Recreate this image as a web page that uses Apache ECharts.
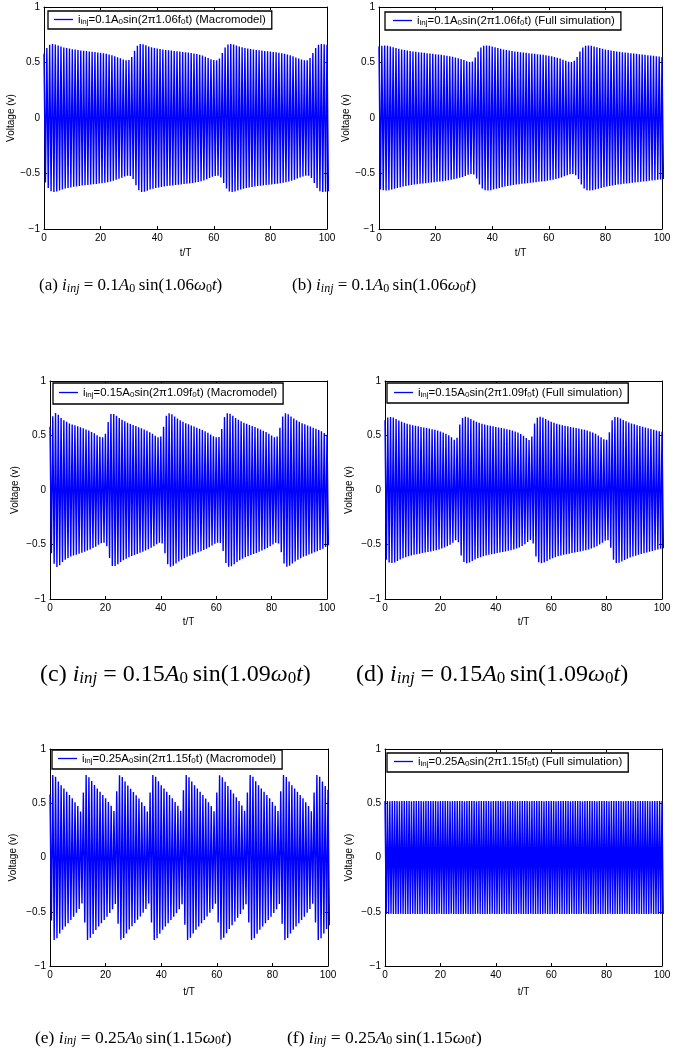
<!DOCTYPE html>
<html><head><meta charset="utf-8">
<script src="https://cdn.jsdelivr.net/npm/echarts@6/dist/echarts.min.js"></script>
<style>html,body{margin:0;padding:0;background:#fff}#c{width:692px;height:1061px}</style>
</head><body><div id="c"></div>
<script>
// ---------------- data ----------------
const xTicks = [0, 20, 40, 60, 80, 100];
const yTicks = [-1, -0.5, 0, 0.5, 1];
const panelIds = ['a', 'b', 'c', 'd', 'e', 'f'];
const injCoef = ['0.1', '0.1', '0.15', '0.15', '0.25', '0.25'];
const injFreq = ['1.06', '1.06', '1.09', '1.09', '1.15', '1.15'];
const modelName = ['Macromodel', 'Full simulation', 'Macromodel', 'Full simulation', 'Macromodel', 'Full simulation'];
const cyclesPerT = [1, 1, 1, 1, 1, 1.15];

// peak amplitude of each oscillation cycle (V)
const ampA = [0.58,0.63,0.66,0.667,0.662,0.652,0.643,0.636,0.63,0.625,
 0.62,0.616,0.612,0.609,0.606,0.603,0.6,0.597,0.594,0.591,
 0.587,0.583,0.578,0.572,0.565,0.557,0.548,0.538,0.528,0.52,
 0.522,0.55,0.605,0.65,0.667,0.664,0.655,0.645,0.637,0.631,
 0.626,0.621,0.617,0.613,0.61,0.607,0.604,0.601,0.598,0.595,
 0.592,0.589,0.585,0.581,0.576,0.57,0.562,0.552,0.541,0.53,
 0.522,0.52,0.535,0.585,0.635,0.662,0.667,0.663,0.653,0.644,
 0.637,0.631,0.626,0.621,0.617,0.613,0.61,0.607,0.604,0.601,
 0.598,0.595,0.592,0.588,0.584,0.579,0.573,0.566,0.557,0.546,
 0.535,0.527,0.521,0.52,0.54,0.585,0.63,0.66,0.667,0.665,0.66];
const ampB = [0.645,0.65,0.652,0.65,0.645,0.638,0.63,0.623,0.617,0.612,
 0.607,0.603,0.599,0.596,0.593,0.59,0.587,0.584,0.581,0.578,
 0.575,0.572,0.569,0.565,0.561,0.557,0.552,0.546,0.539,0.531,
 0.522,0.512,0.505,0.51,0.545,0.6,0.635,0.65,0.652,0.65,
 0.645,0.638,0.63,0.623,0.617,0.612,0.607,0.603,0.599,0.596,
 0.593,0.59,0.587,0.584,0.581,0.578,0.575,0.572,0.569,0.565,
 0.561,0.556,0.55,0.543,0.535,0.525,0.515,0.507,0.505,0.515,
 0.55,0.6,0.635,0.65,0.652,0.65,0.645,0.638,0.63,0.623,
 0.617,0.612,0.607,0.603,0.599,0.596,0.593,0.59,0.587,0.584,
 0.581,0.578,0.575,0.572,0.569,0.566,0.563,0.56,0.557,0.554,0.55];
const ampC = [0.58,0.676,0.706,0.69,0.66,0.64,0.625,0.61,0.6,0.594,
 0.584,0.575,0.566,0.556,0.545,0.533,0.52,0.503,0.488,0.484,
 0.517,0.624,0.697,0.697,0.68,0.66,0.645,0.63,0.617,0.606,
 0.596,0.586,0.576,0.566,0.555,0.543,0.53,0.515,0.498,0.485,
 0.49,0.58,0.68,0.705,0.695,0.675,0.655,0.64,0.625,0.613,
 0.602,0.592,0.582,0.572,0.562,0.551,0.539,0.526,0.51,0.494,
 0.483,0.487,0.56,0.67,0.703,0.7,0.68,0.66,0.645,0.63,
 0.618,0.607,0.597,0.587,0.577,0.567,0.556,0.544,0.531,0.515,
 0.499,0.485,0.49,0.57,0.675,0.705,0.695,0.675,0.655,0.64,
 0.625,0.613,0.602,0.592,0.582,0.572,0.562,0.551,0.539,0.524,0.507];
const ampD = [0.64,0.665,0.67,0.665,0.652,0.638,0.627,0.617,0.608,0.601,
 0.595,0.589,0.584,0.579,0.574,0.569,0.564,0.558,0.552,0.545,
 0.537,0.528,0.517,0.503,0.485,0.462,0.48,0.6,0.66,0.672,
 0.665,0.652,0.638,0.627,0.617,0.608,0.601,0.595,0.589,0.584,
 0.579,0.574,0.569,0.564,0.558,0.552,0.545,0.537,0.527,0.514,
 0.497,0.476,0.458,0.49,0.61,0.663,0.672,0.664,0.651,0.638,
 0.627,0.617,0.608,0.601,0.595,0.589,0.584,0.579,0.574,0.569,
 0.564,0.558,0.552,0.545,0.537,0.527,0.515,0.5,0.483,0.465,
 0.46,0.53,0.64,0.67,0.668,0.656,0.642,0.63,0.619,0.61,
 0.602,0.595,0.588,0.581,0.574,0.567,0.56,0.553,0.546,0.54,0.535];
const ampE = [0.58,
 0.76,0.745,0.7,0.665,0.635,0.605,0.575,0.545,0.51,0.475,0.425,0.6,
 0.76,0.74,0.705,0.668,0.636,0.606,0.576,0.546,0.512,0.476,0.428,0.61,
 0.758,0.742,0.7,0.664,0.634,0.604,0.574,0.544,0.51,0.474,0.424,0.6,
 0.76,0.745,0.702,0.666,0.636,0.606,0.576,0.546,0.512,0.477,0.43,0.62,
 0.76,0.74,0.7,0.665,0.635,0.605,0.575,0.544,0.51,0.474,0.426,0.6,
 0.758,0.74,0.698,0.66,0.625,0.59,0.555,0.52,0.48,0.43,0.6,
 0.76,0.745,0.702,0.666,0.636,0.606,0.576,0.546,0.512,0.476,0.428,0.61,
 0.76,0.742,0.7,0.665,0.635,0.605,0.575,0.545,0.51,0.475,0.426,0.6,
 0.76,0.745,0.7,0.66,0.625];
const ampF = [0.52,0.52,0.519,0.52,0.52,0.52,0.519,0.52,0.52,0.52,
 0.52,0.519,0.52,0.52,0.52,0.52,0.519,0.52,0.52,0.52,
 0.52,0.52,0.519,0.52,0.52,0.52,0.52,0.519,0.52,0.52,
 0.52,0.52,0.52,0.519,0.52,0.52,0.52,0.52,0.519,0.52,
 0.52,0.52,0.52,0.52,0.519,0.52,0.52,0.52,0.52,0.519,
 0.52,0.52,0.52,0.52,0.52,0.519,0.52,0.52,0.52,0.52,
 0.519,0.52,0.52,0.52,0.52,0.52,0.519,0.52,0.52,0.52,
 0.52,0.519,0.52,0.52,0.52,0.52,0.52,0.519,0.52,0.52,
 0.52,0.52,0.519,0.52,0.52,0.52,0.52,0.52,0.519,0.52,
 0.52,0.52,0.52,0.519,0.52,0.52,0.52,0.52,0.52,0.519,
 0.52,0.52,0.52,0.52,0.519,0.52,0.52,0.52,0.52,0.52,
 0.519,0.52,0.52,0.52,0.52,0.52];
const amplitudes = [ampA, ampB, ampC, ampD, ampE, ampF];

// ---------------- layout (px) ----------------
const layout = [
  {grid:[44,7,283,222],  legend:[48,11],  legPad:[3,6,3,6], yGap:27, xGap:19, cap:[39,286], capSize:17},
  {grid:[379,7,283,222], legend:[385,12], legPad:[3,6,3,8], yGap:25, xGap:19, cap:[292,286], capSize:17},
  {grid:[50,381,277,218],  legend:[53,383],  legPad:[4,6,5,6], yGap:30, xGap:18, cap:[40,675], capSize:24},
  {grid:[385,381,277,218], legend:[387,383], legPad:[4,6,4,7], yGap:31, xGap:18, cap:[356,675], capSize:24},
  {grid:[50,749,278,217],  legend:[52,750],  legPad:[3,6,4,6], yGap:32, xGap:21, cap:[35,1038], capSize:17.5},
  {grid:[385,749,277,217], legend:[387,753], legPad:[3,6,4,7], yGap:31, xGap:21, cap:[287,1038], capSize:17.5}
];

const SANS = 'Liberation Sans, Arial, Helvetica, sans-serif';
const SERIF = 'Liberation Serif, Times New Roman, serif';
const BLUE = '#0000ff';

function wave(amp, cpt) {
  const pts = [];
  for (let k = 0; k < amp.length; k++) {
    pts.push([k / cpt, amp[k]]);
    pts.push([(k + 0.5) / cpt, -amp[k]]);
  }
  return pts;
}

const legendRich = {
  n: {fontFamily: SANS, fontSize: 11.4, color: '#000', lineHeight: 16},
  s: {fontFamily: SANS, fontSize: 8, color: '#000', verticalAlign: 'top', padding: [6.5, 0, 0, 0]}
};
function capRich(fs) {
  const ss = Math.round(fs * 0.7);
  const lh = Math.round(fs * 1.4);
  const pad = lh / 2 + fs * 0.22 - ss * 0.6;
  return {
    r: {fontFamily: SERIF, fontSize: fs, color: '#000', lineHeight: lh},
    i: {fontFamily: SERIF, fontSize: fs, color: '#000', fontStyle: 'italic', lineHeight: lh},
    si: {fontFamily: SERIF, fontSize: ss, color: '#000', fontStyle: 'italic', verticalAlign: 'top', padding: [pad, 0, 0, 0]},
    s: {fontFamily: SERIF, fontSize: ss, color: '#000', verticalAlign: 'top', padding: [pad, 0, 0, 0]}
  };
}

const grid = [], xAxis = [], yAxis = [], series = [], legend = [], graphic = [];
const tickFmt = v => (v < 0 ? '\u2212' + (-v) : String(v));
const axisLine = {show: true, onZero: false, lineStyle: {color: '#000', width: 1}};
const axisTick = {show: true, inside: true, length: 3, lineStyle: {color: '#000', width: 1}};

for (let i = 0; i < 6; i++) {
  const L = layout[i];
  grid.push({left: L.grid[0], top: L.grid[1], width: L.grid[2], height: L.grid[3], containLabel: false});
  const xBase = {gridIndex: i, type: 'value', min: xTicks[0], max: xTicks[xTicks.length - 1], interval: xTicks[1] - xTicks[0],
    splitLine: {show: false}, axisLine, axisTick};
  const yBase = {gridIndex: i, type: 'value', min: yTicks[0], max: yTicks[yTicks.length - 1], interval: yTicks[1] - yTicks[0],
    splitLine: {show: false}, axisLine, axisTick};
  xAxis.push(Object.assign({}, xBase, {position: 'bottom',
    axisLabel: {color: '#000', fontFamily: SANS, fontSize: 10, margin: 4},
    name: 't/T', nameLocation: 'middle', nameGap: L.xGap,
    nameTextStyle: {color: '#000', fontFamily: SANS, fontSize: 10}}));
  xAxis.push(Object.assign({}, xBase, {position: 'top', axisLabel: {show: false}}));
  yAxis.push(Object.assign({}, yBase, {position: 'left',
    axisLabel: {color: '#000', fontFamily: SANS, fontSize: 10, margin: 4, formatter: tickFmt},
    name: 'Voltage (v)', nameLocation: 'middle', nameGap: L.yGap, nameRotate: 90,
    nameTextStyle: {color: '#000', fontFamily: SANS, fontSize: 10}}));
  yAxis.push(Object.assign({}, yBase, {position: 'right', axisLabel: {show: false}}));

  const sname = 'panel-' + panelIds[i];
  series.push({
    name: sname, type: 'line', xAxisIndex: 2 * i, yAxisIndex: 2 * i,
    data: wave(amplitudes[i], cyclesPerT[i]),
    symbol: 'none', showSymbol: false, clip: true,
    lineStyle: {color: BLUE, width: 1.4}, itemStyle: {color: BLUE},
    silent: true, animation: false
  });
  const legText = '{n|i}{s|inj}{n|=' + injCoef[i] + 'A}{s|0}{n|sin(2\u03c0' + injFreq[i] + 'f}{s|0}{n|t) (' + modelName[i] + ')}';
  legend.push({
    data: [{name: sname, icon: 'rect', itemStyle: {color: BLUE}}],
    left: L.legend[0], top: L.legend[1], padding: L.legPad,
    orient: 'horizontal', itemWidth: 19, itemHeight: 1.3, itemGap: 0,
    backgroundColor: '#fff', borderColor: '#000', borderWidth: 1.3, borderRadius: 0,
    selectedMode: false, formatter: () => legText,
    textStyle: {rich: legendRich, fontFamily: SANS, fontSize: 11.4, color: '#000'}
  });
  const capText = '{r|(' + panelIds[i] + ') }{i|i}{si|inj}{r| = ' + injCoef[i] + '}{i|A}{s|0}{r|\u2009sin(' + injFreq[i] + '}{i|\u03c9}{s|0}{i|t}{r|)}';
  graphic.push({type: 'text', x: L.cap[0], y: L.cap[1], silent: true,
    style: {text: capText, rich: capRich(L.capSize), verticalAlign: 'middle', align: 'left', fill: '#000'}});
}

const chart = echarts.init(document.getElementById('c'), null, {renderer: 'canvas'});
chart.setOption({
  animation: false, backgroundColor: '#fff',
  grid, xAxis, yAxis, series, legend, graphic
});
</script></body></html>
